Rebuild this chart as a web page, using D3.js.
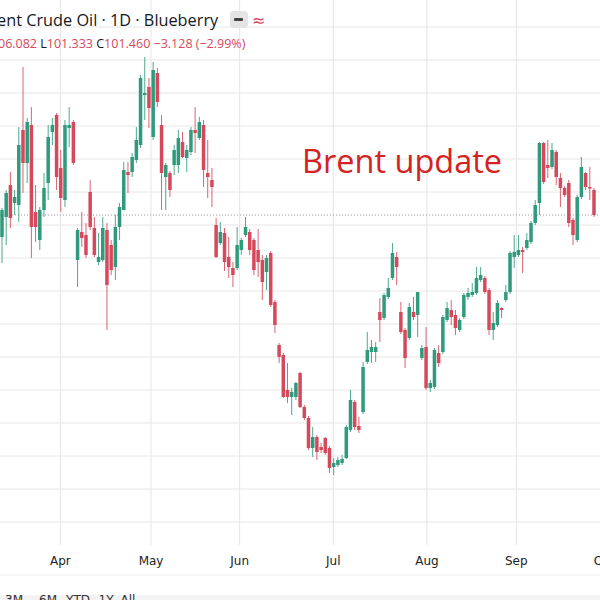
<!DOCTYPE html>
<html><head><meta charset="utf-8">
<script src="https://cdn.jsdelivr.net/npm/d3@7"></script>
<style>body{margin:0;background:#fff}svg{display:block}</style>
</head><body>
<svg id="c" width="600" height="600"></svg>
<script>
// OHLC: [open, high, low, close]
const candles = [
[96.3,99.2,93.7,99.0],[98.3,101.0,95.5,100.7],[101.5,102.8,97.2,98.2],[99.7,101.0,98.5,100.3],[99.5,107.3,97.8,105.5],
[107.0,113.3,100.7,103.7],[103.7,108.2,101.7,107.8],[107.5,109.3,94.2,97.3],[98.8,101.5,95.8,97.3],[96.0,99.3,95.0,99.0],
[99.0,102.7,98.3,101.2],[101.7,107.5,100.0,106.3],[106.8,108.2,105.5,107.5],[108.5,108.7,101.0,102.3],[103.2,105.0,98.8,100.2],
[100.0,108.0,99.3,107.5],[107.2,109.3,105.3,107.5],[107.8,108.0,103.5,103.7],[94.0,97.2,91.3,97.0],[96.8,98.8,95.3,96.2],
[96.5,97.7,94.2,94.5],[100.8,102.0,97.0,97.3],[97.2,98.3,94.3,94.5],[93.8,96.7,93.5,94.3],[94.0,98.3,93.8,97.2],
[97.0,97.7,87.0,91.5],[95.5,96.0,92.5,93.0],[93.3,98.5,92.0,97.3],[97.3,99.7,96.0,99.3],[99.0,103.8,99.0,103.0],
[102.8,103.8,100.7,102.5],[102.8,104.7,102.3,104.3],[104.0,107.3,103.7,106.0],[105.5,112.5,105.2,112.2],[110.5,114.3,108.0,110.7],
[111.3,112.2,107.2,109.2],[106.3,113.8,106.0,113.0],[112.7,113.2,109.3,109.8],[107.5,108.5,99.0,102.7],[102.3,103.7,99.0,103.5],
[102.7,102.9,100.3,101.0],[103.5,105.5,102.5,105.0],[103.5,107.0,102.7,106.2],[105.8,106.8,104.2,104.3],[104.2,105.5,102.8,105.0],
[104.8,107.3,104.5,107.0],[107.0,109.3,104.7,106.7],[106.2,108.3,106.0,107.8],[107.5,108.0,101.3,103.0],[102.7,106.0,100.2,102.3],
[102.0,103.2,99.3,101.3],[97.5,98.2,94.2,94.3],[95.7,97.8,95.5,96.8],[96.7,97.2,92.9,93.8],[94.3,96.3,92.2,93.3],
[93.2,93.8,91.3,92.5],[93.2,97.3,93.0,95.5],[95.0,96.2,94.5,96.0],[96.5,98.3,96.3,97.3],[96.8,97.1,94.5,95.0],
[96.0,96.2,92.5,93.0],[95.0,97.1,92.3,93.8],[94.0,94.5,90.0,91.8],[92.8,94.5,91.0,94.2],[94.7,94.9,89.3,89.5],
[89.8,90.0,86.7,87.5],[85.5,85.7,83.7,84.3],[84.5,84.7,80.2,80.3],[81.0,83.7,79.7,80.3],[80.3,81.2,78.5,80.8],
[80.3,81.8,80.0,81.7],[82.7,82.8,79.2,79.3],[79.3,79.5,78.0,78.2],[78.2,78.4,75.0,75.2],[75.2,77.3,74.3,76.3],
[76.3,76.5,74.0,74.8],[75.3,75.7,74.7,75.0],[76.2,76.3,74.5,74.7],[75.2,75.4,72.7,73.2],[73.3,74.2,72.5,73.7],
[73.5,74.3,73.3,74.0],[73.7,74.5,73.5,74.1],[74.2,77.5,74.1,77.3],[77.0,81.0,76.8,80.0],[79.8,80.0,77.0,77.3],
[77.4,78.3,76.7,77.0],[78.8,83.8,78.6,83.3],[83.8,86.8,83.6,85.0],[84.8,86.0,83.7,85.3],[84.8,85.8,83.8,85.3],
[88.8,90.2,85.8,88.0],[88.2,90.7,88.0,90.5],[90.3,92.2,90.1,91.2],[92.2,95.7,92.0,94.7],[94.3,94.8,91.5,93.3],
[88.8,89.8,86.6,86.8],[87.0,87.2,83.2,84.2],[86.2,89.7,86.0,89.3],[88.8,90.3,88.0,88.3],[88.5,90.8,86.3,90.8],
[84.2,85.5,84.0,85.2],[85.3,87.3,81.0,81.2],[81.2,82.0,80.8,81.7],[81.3,85.2,81.1,85.0],[84.7,85.5,83.3,83.7],
[84.8,88.5,84.6,88.3],[88.0,89.8,87.8,89.2],[89.0,90.0,87.5,88.3],[88.5,89.0,86.5,87.2],[87.0,88.2,86.8,88.0],
[88.3,90.7,88.1,90.5],[90.3,91.2,90.0,90.7],[90.5,91.7,90.3,90.8],[90.7,93.3,90.5,92.2],[92.0,93.3,91.8,92.5],
[92.2,92.4,90.6,90.8],[91.0,91.2,86.5,87.0],[87.0,88.8,86.0,87.7],[87.5,90.0,87.3,89.7],[89.2,89.3,88.2,89.0],
[90.0,91.5,89.8,90.8],[90.8,94.9,90.6,94.7],[94.3,96.5,93.2,94.8],[94.5,96.5,94.3,95.0],[95.0,95.3,92.7,94.8],
[95.2,96.7,95.0,96.0],[95.8,97.9,95.6,97.7],[97.7,100.0,97.5,99.5],[99.7,105.8,98.5,105.7],[105.7,105.8,101.6,101.8],
[103.5,106.0,102.2,103.2],[103.3,105.7,103.1,105.0],[104.8,105.0,101.5,102.3],[102.2,102.7,99.3,101.2],[101.2,101.4,100.3,100.5],
[101.7,102.0,97.3,97.7],[98.0,98.2,95.5,96.5],[96.0,100.5,95.8,100.3],[100.3,104.3,100.1,103.3],[102.7,102.8,101.0,101.3],
[101.3,103.3,100.0,101.2],[101.0,101.2,98.3,98.5]
];
const monthLabels = ["Apr","May","Jun","Jul","Aug","Sep","Oct"];
const monthIndex  = [13.9, 35.5, 56.6, 78.9, 101.2, 122.5, 143.4];
const gridPrices = [117.3,114.0,110.7,107.4,104.1,100.8,97.5,94.2,90.9,87.6,84.3,81.0,77.7,74.4,71.1,67.8];
const rangeButtons = ["3M","6M","YTD","1Y","All"];

const svg = d3.select("#c");
const x = d3.scaleLinear().domain([0, candles.length-1]).range([2, 594]);
const y = d3.scaleLinear().domain([60, 120]).range([600, 0]);
const UP="#2f9b7c", DN="#d6495c";

svg.append("g").selectAll("line").data(gridPrices).join("line")
  .attr("x1",0).attr("x2",600).attr("y1",d=>y(d)).attr("y2",d=>y(d))
  .attr("stroke","#e6e6e6").attr("stroke-width",1);
svg.append("g").selectAll("line").data(monthIndex).join("line")
  .attr("x1",d=>x(d)).attr("x2",d=>x(d)).attr("y1",0).attr("y2",545)
  .attr("stroke","#e6e6e6").attr("stroke-width",1);

const last = candles[candles.length-1][3];
svg.append("line").attr("x1",0).attr("x2",600).attr("y1",y(last)).attr("y2",y(last))
  .attr("stroke","#999").attr("stroke-width",1).attr("stroke-dasharray","1,2");

const g = svg.append("g");
const cg = g.selectAll("g").data(candles).join("g");
cg.append("line")
  .attr("x1",(d,i)=>x(i)).attr("x2",(d,i)=>x(i))
  .attr("y1",d=>y(d[1])).attr("y2",d=>y(d[2]))
  .attr("stroke",d=>d[3]>=d[0]?UP:DN).attr("stroke-width",1).attr("opacity",0.85);
cg.append("rect")
  .attr("x",(d,i)=>x(i)-1.75).attr("width",3.5)
  .attr("y",d=>y(Math.max(d[0],d[3])))
  .attr("height",d=>Math.max(1.5, Math.abs(y(d[0])-y(d[3]))))
  .attr("fill",d=>d[3]>=d[0]?UP:DN);

svg.append("g").selectAll("text").data(monthLabels).join("text")
  .attr("x",(d,i)=>x(monthIndex[i])).attr("y",565).attr("text-anchor","middle")
  .attr("font-family","Verdana, DejaVu Sans, sans-serif").attr("font-size",12)
  .attr("fill","#222").text(d=>d);
svg.append("line").attr("x1",0).attr("x2",600).attr("y1",575).attr("y2",575).attr("stroke","#eee");
svg.append("rect").attr("x",0).attr("y",595).attr("width",600).attr("height",5).attr("fill","#f3f3f3");
const bx=[14,48,78,106,128];
svg.append("g").selectAll("text").data(rangeButtons).join("text")
  .attr("x",(d,i)=>bx[i]).attr("y",604).attr("text-anchor","middle")
  .attr("font-family","DejaVu Sans, sans-serif").attr("font-size",12).attr("fill","#333").text(d=>d);

svg.append("text").attr("x",-3).attr("y",26)
  .attr("font-family","Open Sans, sans-serif").attr("font-size",16.3).attr("fill","#131722")
  .text("ent Crude Oil · 1D · Blueberry");
svg.append("rect").attr("x",230).attr("y",11).attr("width",18).attr("height",17).attr("rx",4).attr("fill","#e4e4e4");
svg.append("rect").attr("x",234).attr("y",18).attr("width",9).attr("height",3).attr("rx",1).attr("fill","#444");
svg.append("text").attr("x",252).attr("y",26).attr("font-family","DejaVu Sans, sans-serif")
  .attr("font-size",16).attr("fill","#d6495c").text("≈");
const h2 = svg.append("text").attr("x",-2).attr("y",48)
  .attr("font-family","Open Sans, sans-serif").attr("font-size",12.5).attr("fill","#d6495c");
h2.append("tspan").text("06.082 ");
h2.append("tspan").attr("fill","#131722").text("L");
h2.append("tspan").text("101.333 ");
h2.append("tspan").attr("fill","#131722").text("C");
h2.append("tspan").text("101.460  −3.128 (−2.99%)");

svg.append("text").attr("x",302).attr("y",173)
  .attr("font-family","Open Sans, sans-serif").attr("font-size",32.5).attr("fill","#d42222")
  .text("Brent update");
</script>
</body></html>
